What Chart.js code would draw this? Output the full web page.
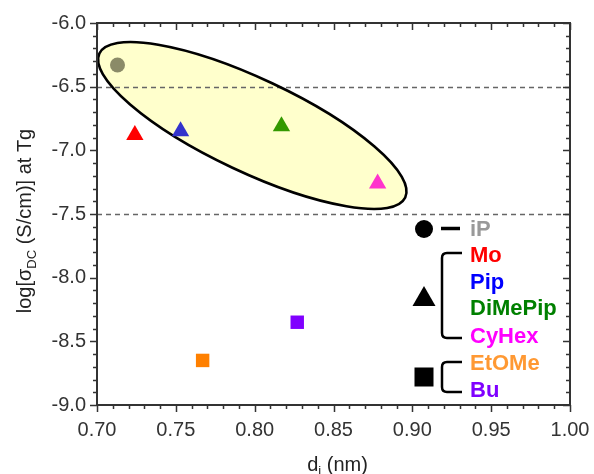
<!DOCTYPE html>
<html>
<head>
<meta charset="utf-8">
<script src="https://cdn.jsdelivr.net/npm/chart.js@4/dist/chart.umd.min.js"></script>
<style>
html, body { margin: 0; padding: 0; background: #fff; }
</style>
</head>
<body>
<canvas id="chart" width="594" height="474"></canvas>
<script>
// samples and measured values
const samples = ['iP', 'Mo', 'Pip', 'DiMePip', 'CyHex', 'EtOMe', 'Bu'];
const diNm = [0.713, 0.724, 0.753, 0.817, 0.878, 0.767, 0.827];
const logSigmaDC = [-6.33, -6.88, -6.85, -6.81, -7.26, -8.65, -8.35];

const xTickValues = [0.70, 0.75, 0.80, 0.85, 0.90, 0.95, 1.00];
const yTickValues = [-6.0, -6.5, -7.0, -7.5, -8.0, -8.5, -9.0];
const refLines = [-6.5, -7.5];

// highlighted group (major axis ends in data units, minor/major ratio)
const groupEllipse = { x1: 0.7015, y1: -6.24, x2: 0.8955, y2: -7.37, ratio: 0.276 };

const markerStyle = {
    iP:      { shape: 'circle',   color: '#8b8b68', r: 7.5 },
    Mo:      { shape: 'triangle', color: '#ff0000', r: 10 },
    Pip:     { shape: 'triangle', color: '#3333cc', r: 10 },
    DiMePip: { shape: 'triangle', color: '#339900', r: 10 },
    CyHex:   { shape: 'triangle', color: '#ff33cc', r: 10 },
    EtOMe:   { shape: 'rect',     color: '#ff8000', r: 9.5 },
    Bu:      { shape: 'rect',     color: '#8000ff', r: 9.5 }
};
const labelColors = {
    iP: '#999999', Mo: '#ff0000', Pip: '#0000ff', DiMePip: '#008000',
    CyHex: '#ff00ff', EtOMe: '#ff9933', Bu: '#7f00ff'
};

const FONT = '"Liberation Sans", Arial, sans-serif';

const datasets = samples.map((name, i) => ({
    label: name,
    data: [{ x: diNm[i], y: logSigmaDC[i] }],
    pointStyle: markerStyle[name].shape,
    pointRadius: markerStyle[name].r,
    pointHoverRadius: markerStyle[name].r,
    backgroundColor: markerStyle[name].color,
    borderColor: markerStyle[name].color,
    borderWidth: 0
}));

const decorPlugin = {
    id: 'decor',
    beforeDatasetsDraw(chart) {
        const { ctx, chartArea: ca, scales: { x, y } } = chart;
        ctx.save();
        // ellipse
        const px1 = x.getPixelForValue(groupEllipse.x1), py1 = y.getPixelForValue(groupEllipse.y1);
        const px2 = x.getPixelForValue(groupEllipse.x2), py2 = y.getPixelForValue(groupEllipse.y2);
        const cx = (px1 + px2) / 2, cy = (py1 + py2) / 2;
        const a = Math.hypot(px2 - px1, py2 - py1) / 2;
        const ang = Math.atan2(py2 - py1, px2 - px1);
        ctx.beginPath();
        ctx.ellipse(cx, cy, a, a * groupEllipse.ratio, ang, 0, Math.PI * 2);
        ctx.fillStyle = '#ffffcc';
        ctx.fill();
        // dashed reference lines
        ctx.strokeStyle = '#666666';
        ctx.lineWidth = 1.5;
        ctx.setLineDash([5, 4]);
        refLines.forEach(v => {
            const py = Math.round(y.getPixelForValue(v)) + 0.5;
            ctx.beginPath();
            ctx.moveTo(ca.left, py);
            ctx.lineTo(ca.right, py);
            ctx.stroke();
        });
        ctx.setLineDash([]);
        ctx.beginPath();
        ctx.ellipse(cx, cy, a, a * groupEllipse.ratio, ang, 0, Math.PI * 2);
        ctx.strokeStyle = '#000';
        ctx.lineWidth = 2.6;
        ctx.stroke();
        ctx.restore();
    },
    afterDraw(chart) {
        const { ctx, chartArea: ca, scales: { x, y } } = chart;
        ctx.save();
        // frame
        ctx.strokeStyle = '#333';
        ctx.lineWidth = 2;
        ctx.strokeRect(ca.left, ca.top, ca.right - ca.left, ca.bottom - ca.top);
        // ticks: x ticks point down, y ticks point left
        ctx.lineWidth = 1.5;
        ctx.beginPath();
        for (let k = 0; k <= 30; k++) {
            const px = Math.round(x.getPixelForValue(0.70 + k * 0.01)) + 0.5;
            const len = k % 5 === 0 ? 7 : 4;
            ctx.moveTo(px, ca.top); ctx.lineTo(px, ca.top + len);
            ctx.moveTo(px, ca.bottom); ctx.lineTo(px, ca.bottom + len);
        }
        for (let k = 0; k <= 30; k++) {
            const py = Math.round(y.getPixelForValue(-9 + k * 0.1)) + 0.5;
            const len = k % 5 === 0 ? 7 : 4;
            ctx.moveTo(ca.left, py); ctx.lineTo(ca.left - len, py);
            ctx.moveTo(ca.right, py); ctx.lineTo(ca.right - len, py);
        }
        ctx.stroke();

        // axis titles
        ctx.fillStyle = '#222';
        ctx.textBaseline = 'alphabetic';
        const big = '20px ' + FONT, small = '13px ' + FONT;
        // x title: d_i (nm)
        ctx.font = big;
        const wd = ctx.measureText('d').width;
        const wr = ctx.measureText(' (nm)').width;
        ctx.font = small;
        const wi = ctx.measureText('i').width;
        let tx = (ca.left + ca.right) / 2 + 4 - (wd + wi + wr) / 2;
        const ty = 471;
        ctx.font = big; ctx.textAlign = 'left';
        ctx.fillText('d', tx, ty);
        ctx.font = small; ctx.fillText('i', tx + wd, ty + 4);
        ctx.font = big; ctx.fillText(' (nm)', tx + wd + wi, ty);
        // y title: log[σ_DC (S/cm)] at Tg
        ctx.translate(31, 221);
        ctx.rotate(-Math.PI / 2);
        ctx.font = big;
        const w1 = ctx.measureText('log[σ').width;
        const w3 = ctx.measureText(' (S/cm)] at Tg').width;
        ctx.font = small;
        const w2 = ctx.measureText('DC').width;
        let sx = -(w1 + w2 + w3) / 2;
        ctx.font = big; ctx.fillText('log[σ', sx, 0);
        ctx.font = small; ctx.fillText('DC', sx + w1, 5);
        ctx.font = big; ctx.fillText(' (S/cm)] at Tg', sx + w1 + w2, 0);
        ctx.setTransform(1, 0, 0, 1, 0, 0);

        // legend block (bottom right of plot)
        const mx = ca.left + 327;
        const bx = ca.left + 345;
        const armX = ca.left + 365;
        const textX = ca.left + 373;
        const rowY = { iP: 206, Mo: 232, Pip: 259, DiMePip: 285, CyHex: 313, EtOMe: 340, Bu: 367 };
        ctx.fillStyle = '#000';
        ctx.strokeStyle = '#000';
        // circle
        ctx.beginPath();
        ctx.arc(mx, ca.top + 206, 9, 0, Math.PI * 2);
        ctx.fill();
        ctx.lineWidth = 3.5;
        ctx.beginPath();
        ctx.moveTo(ca.left + 344, ca.top + 205.5);
        ctx.lineTo(ca.left + 363, ca.top + 205.5);
        ctx.stroke();
        // triangle
        const tyc = ca.top + 274;
        ctx.beginPath();
        ctx.moveTo(mx, tyc - 11);
        ctx.lineTo(mx + 11.5, tyc + 9);
        ctx.lineTo(mx - 11.5, tyc + 9);
        ctx.closePath();
        ctx.fill();
        // square
        ctx.fillRect(mx - 9.5, ca.top + 354 - 9.5, 19, 19);
        // brackets
        const bracket = (t, b) => {
            const r = 5;
            ctx.beginPath();
            ctx.moveTo(armX, ca.top + t);
            ctx.lineTo(bx + r, ca.top + t);
            ctx.quadraticCurveTo(bx, ca.top + t, bx, ca.top + t + r);
            ctx.lineTo(bx, ca.top + b - r);
            ctx.quadraticCurveTo(bx, ca.top + b, bx + r, ca.top + b);
            ctx.lineTo(armX, ca.top + b);
            ctx.stroke();
        };
        ctx.lineWidth = 2.5;
        bracket(230, 315);
        bracket(339, 369);
        // labels
        ctx.font = 'bold 22px ' + FONT;
        ctx.textAlign = 'left';
        ctx.textBaseline = 'middle';
        samples.forEach(name => {
            ctx.fillStyle = labelColors[name];
            ctx.fillText(name, textX, ca.top + rowY[name] + 1);
        });
        ctx.restore();
    }
};

new Chart(document.getElementById('chart'), {
    type: 'scatter',
    data: { datasets: datasets },
    plugins: [decorPlugin],
    options: {
        responsive: false,
        animation: false,
        layout: { padding: { top: 23, right: 24, left: 0, bottom: 0 } },
        plugins: {
            legend: { display: false },
            tooltip: { enabled: false }
        },
        scales: {
            x: {
                type: 'linear',
                min: 0.70,
                max: 1.00,
                afterFit: s => { s.height = 69; s.paddingLeft = 0; s.paddingRight = 0; },
                afterBuildTicks: s => { s.ticks = xTickValues.map(v => ({ value: v })); },
                grid: { display: false, drawTicks: false },
                border: { display: false },
                ticks: {
                    padding: 13,
                    color: '#333',
                    font: { family: FONT, size: 20 },
                    callback: v => Number(v).toFixed(2)
                }
            },
            y: {
                type: 'linear',
                min: -9.0,
                max: -6.0,
                afterFit: s => { s.width = 97; s.paddingTop = 0; s.paddingBottom = 0; },
                afterBuildTicks: s => { s.ticks = yTickValues.map(v => ({ value: v })); },
                grid: { display: false, drawTicks: false },
                border: { display: false },
                ticks: {
                    padding: 11,
                    color: '#333',
                    font: { family: FONT, size: 20 },
                    callback: v => Number(v).toFixed(1)
                }
            }
        }
    }
});
</script>
</body>
</html>
